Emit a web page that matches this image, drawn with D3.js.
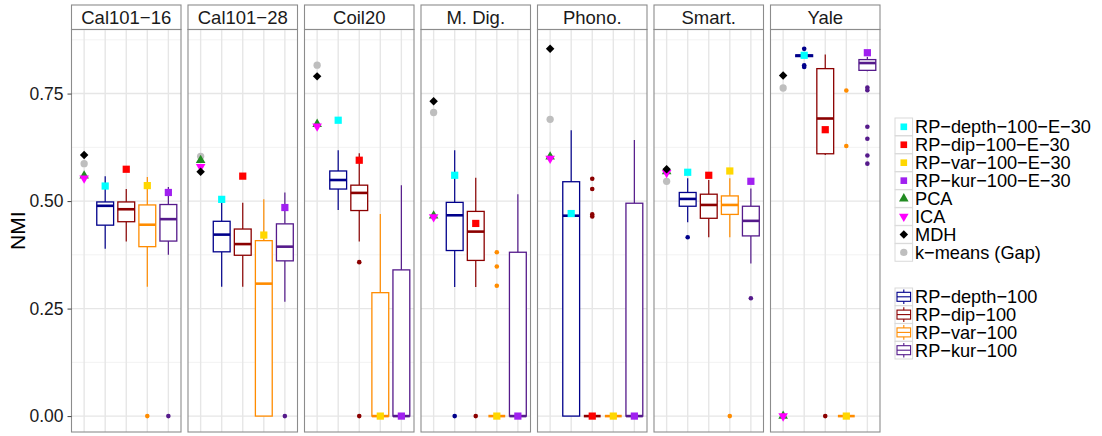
<!DOCTYPE html>
<html>
<head>
<meta charset="utf-8">
<script src="https://cdn.jsdelivr.net/npm/d3@7"></script>
<style>
  body { margin: 0; background: #fff; }
  text { font-family: "Liberation Sans", Arial, sans-serif; }
</style>
</head>
<body>
<svg id="chart" width="1102" height="436"></svg>
<script>
// facets
let datasets = ['Cal101−16', 'Cal101−28', 'Coil20', 'M. Dig.', 'Phono.', 'Smart.', 'Yale']

// single-value methods, one value per dataset
let kmeansGap = [0.587, 0.604, 0.816, 0.706, 0.690, 0.546, 0.763]
let pca       = [0.559, 0.595, 0.679, 0.466, 0.603, 0.569, 0.000]
let ica       = [0.553, 0.580, 0.674, 0.463, 0.599, 0.566, 0.000]
let mdh       = [0.607, 0.568, 0.790, 0.732, 0.854, 0.574, 0.792]

let depthE30 = [0.535, 0.504, 0.688, 0.560, 0.471, 0.567, 0.839]
let dipE30   = [0.574, 0.558, 0.595, 0.448, 0.000, 0.560, 0.666]
let varE30   = [0.536, 0.421, 0.000, 0.000, 0.000, 0.570, 0.000]
let kurE30   = [0.520, 0.485, 0.000, 0.000, 0.000, 0.546, 0.845]

// box stats [lower whisker, q1, median, q3, upper whisker]
let depthBox = [
  [0.389, 0.444, 0.489, 0.498, 0.558],
  [0.301, 0.382, 0.422, 0.453, 0.503],
  [0.479, 0.528, 0.549, 0.570, 0.618],
  [0.300, 0.385, 0.467, 0.497, 0.618],
  [0.000, 0.000, 0.466, 0.545, 0.665],
  [0.451, 0.488, 0.505, 0.520, 0.553],
  [0.836, 0.836, 0.838, 0.840, 0.840]
]
let dipBox = [
  [0.406, 0.452, 0.481, 0.498, 0.528],
  [0.301, 0.374, 0.400, 0.435, 0.496],
  [0.406, 0.478, 0.519, 0.537, 0.611],
  [0.300, 0.362, 0.429, 0.476, 0.554],
  [0.000, 0.000, 0.000, 0.000, 0.000],
  [0.416, 0.460, 0.491, 0.516, 0.549],
  [0.607, 0.610, 0.692, 0.808, 0.841]
]
let varBox = [
  [0.301, 0.394, 0.445, 0.491, 0.556],
  [0.000, 0.000, 0.308, 0.408, 0.504],
  [0.000, 0.000, 0.000, 0.287, 0.470],
  [0.000, 0.000, 0.000, 0.000, 0.000],
  [0.000, 0.000, 0.000, 0.000, 0.000],
  [0.416, 0.469, 0.491, 0.512, 0.553],
  [0.000, 0.000, 0.000, 0.000, 0.000]
]
let kurBox = [
  [0.375, 0.407, 0.458, 0.492, 0.533],
  [0.266, 0.361, 0.394, 0.447, 0.520],
  [0.000, 0.000, 0.000, 0.340, 0.537],
  [0.000, 0.000, 0.000, 0.381, 0.516],
  [0.000, 0.000, 0.000, 0.495, 0.642],
  [0.355, 0.419, 0.454, 0.488, 0.529],
  [0.802, 0.804, 0.821, 0.829, 0.835]
]

// outliers
let depthOut = [[], [], [], [0], [], [0.416], [0.854, 0.816, 0.812]]
let dipOut   = [[], [], [0.358, 0], [0], [0.552, 0.528, 0.469, 0.464], [], [0]]
let varOut   = [[0], [], [], [0.381, 0.348, 0.303], [], [0], [0.757, 0.628]]
let kurOut   = [[0], [0], [], [], [], [0.274], [0.764, 0.758, 0.673, 0.645, 0.606, 0.587]]

let yTicks = [0, 0.25, 0.5, 0.75]
let yMinor = [0.125, 0.375, 0.625, 0.875]

let slots = ['single', 'depth', 'dip', 'var', 'kur']

let boxSeries = [
  {name: 'RP−depth−100', slot: 'depth', color: '#00008B', stats: depthBox, out: depthOut},
  {name: 'RP−dip−100', slot: 'dip', color: '#8B0000', stats: dipBox, out: dipOut},
  {name: 'RP−var−100', slot: 'var', color: '#FF8C00', stats: varBox, out: varOut},
  {name: 'RP−kur−100', slot: 'kur', color: '#551A8B', stats: kurBox, out: kurOut}
]

let pointSeries = [
  {name: 'RP−depth−100−E−30', slot: 'depth', color: '#00FFFF', shape: 'square', values: depthE30},
  {name: 'RP−dip−100−E−30', slot: 'dip', color: '#FF0000', shape: 'square', values: dipE30},
  {name: 'RP−var−100−E−30', slot: 'var', color: '#FFD700', shape: 'square', values: varE30},
  {name: 'RP−kur−100−E−30', slot: 'kur', color: '#A020F0', shape: 'square', values: kurE30},
  {name: 'PCA', slot: 'single', color: '#228B22', shape: 'triangle', values: pca},
  {name: 'ICA', slot: 'single', color: '#FF00FF', shape: 'triangleDown', values: ica},
  {name: 'MDH', slot: 'single', color: '#000000', shape: 'diamond', values: mdh},
  {name: 'k−means (Gap)', slot: 'single', color: '#BEBEBE', shape: 'circle', values: kmeansGap}
]

let drawOrder = ['RP−depth−100−E−30', 'RP−dip−100−E−30', 'RP−var−100−E−30', 'RP−kur−100−E−30',
  'k−means (Gap)', 'PCA', 'ICA', 'MDH']

let panelLeft = 71.5
let panelStep = 116.5
let panelW = 109.5
let stripTop = 5
let panelTop = 29.5
let panelBottom = 432

let svg = d3.select('#chart')

let x = d3.scalePoint().domain(slots).range([0, panelW]).padding(0.6)
let y = d3.scaleLinear().domain([-0.037, 0.899]).range([panelBottom, panelTop])
let boxW = x.step() * 0.8

let symbolPath = (shape) => {
  if (shape === 'square') return d3.symbol(d3.symbolSquare, 52)()
  if (shape === 'triangle') return d3.symbol(d3.symbolTriangle, 40)()
  if (shape === 'triangleDown') return d3.symbol(d3.symbolTriangle, 40)()
  if (shape === 'diamond') return d3.symbol(d3.symbolSquare, 36)()
  return d3.symbol(d3.symbolCircle, 42)()
}
let symbolRotate = (shape) => shape === 'triangleDown' ? 180 : (shape === 'diamond' ? 45 : 0)

datasets.forEach((name, i) => {
  let g = svg.append('g').attr('transform', `translate(${panelLeft + i * panelStep},0)`)

  // strip
  g.append('rect')
    .attr('x', 0).attr('y', stripTop)
    .attr('width', panelW).attr('height', panelTop - stripTop)
    .attr('fill', '#fff').attr('stroke', '#8c8c8c').attr('stroke-width', 1.1)
  g.append('text')
    .attr('x', panelW / 2).attr('y', (stripTop + panelTop) / 2 + 6.5)
    .attr('text-anchor', 'middle')
    .attr('font-size', 18.5).attr('fill', '#1a1a1a')
    .text(name)

  // grid
  g.selectAll('.minor').data(yMinor).enter().append('line')
    .attr('x1', 0).attr('x2', panelW)
    .attr('y1', d => y(d)).attr('y2', d => y(d))
    .attr('stroke', '#f2f2f2').attr('stroke-width', 1)
  g.selectAll('.major').data(yTicks).enter().append('line')
    .attr('x1', 0).attr('x2', panelW)
    .attr('y1', d => y(d)).attr('y2', d => y(d))
    .attr('stroke', '#e6e6e6').attr('stroke-width', 1.4)
  g.selectAll('.vgrid').data(slots).enter().append('line')
    .attr('x1', d => x(d)).attr('x2', d => x(d))
    .attr('y1', panelTop).attr('y2', panelBottom)
    .attr('stroke', '#e6e6e6').attr('stroke-width', 1.4)

  // boxplots
  boxSeries.forEach(s => {
    let [lo, q1, med, q3, hi] = s.stats[i]
    let cx = x(s.slot)
    let bg = g.append('g')
    bg.append('line')
      .attr('x1', cx).attr('x2', cx).attr('y1', y(hi)).attr('y2', y(q3))
      .attr('stroke', s.color).attr('stroke-width', 1.2)
    bg.append('line')
      .attr('x1', cx).attr('x2', cx).attr('y1', y(q1)).attr('y2', y(lo))
      .attr('stroke', s.color).attr('stroke-width', 1.2)
    bg.append('rect')
      .attr('x', cx - boxW / 2).attr('width', boxW)
      .attr('y', y(q3)).attr('height', Math.max(0, y(q1) - y(q3)))
      .attr('fill', '#fff').attr('stroke', s.color).attr('stroke-width', 1.3)
    bg.append('line')
      .attr('x1', cx - boxW / 2).attr('x2', cx + boxW / 2)
      .attr('y1', y(med)).attr('y2', y(med))
      .attr('stroke', s.color).attr('stroke-width', 2.6)
    bg.selectAll('circle').data(s.out[i]).enter().append('circle')
      .attr('cx', cx).attr('cy', d => y(d)).attr('r', 2.3)
      .attr('fill', s.color)
  })

  // single-value markers
  drawOrder.forEach(n => {
    let s = pointSeries.find(p => p.name === n)
    g.append('path')
      .attr('d', symbolPath(s.shape))
      .attr('transform', `translate(${x(s.slot)},${y(s.values[i])}) rotate(${symbolRotate(s.shape)})`)
      .attr('fill', s.color)
  })

  // panel border
  g.append('rect')
    .attr('x', 0).attr('y', panelTop)
    .attr('width', panelW).attr('height', panelBottom - panelTop)
    .attr('fill', 'none').attr('stroke', '#8c8c8c').attr('stroke-width', 1.1)
})

// y axis
let yAxis = svg.append('g')
  .attr('transform', `translate(${panelLeft},0)`)
  .call(d3.axisLeft(y).tickValues(yTicks).tickFormat(d3.format('.2f')).tickSize(4).tickPadding(4))
yAxis.select('.domain').remove()
yAxis.selectAll('.tick line').attr('stroke', '#444').attr('stroke-width', 1)
yAxis.selectAll('.tick text')
  .attr('font-size', 17.5).attr('fill', '#1a1a1a')
  .style('font-family', '"Liberation Sans", Arial, sans-serif')

svg.append('text')
  .attr('transform', `translate(24.5,${(panelTop + panelBottom) / 2}) rotate(-90)`)
  .attr('text-anchor', 'middle')
  .attr('font-size', 21).attr('fill', '#000')
  .text('NMI')

// legends
let keyX = 895, keyS = 17.6, textX = 915
let leg1 = svg.append('g')
pointSeries.forEach((s, k) => {
  let ky = 118 + k * 17.95
  leg1.append('rect')
    .attr('x', keyX).attr('y', ky).attr('width', keyS).attr('height', keyS)
    .attr('fill', '#fff').attr('stroke', '#d9d9d9').attr('stroke-width', 1)
  leg1.append('path')
    .attr('d', s.shape === 'square' ? d3.symbol(d3.symbolSquare, 44)() : symbolPath(s.shape))
    .attr('transform', `translate(${keyX + keyS / 2},${ky + keyS / 2}) rotate(${symbolRotate(s.shape)})`)
    .attr('fill', s.color)
  leg1.append('text')
    .attr('x', textX).attr('y', ky + keyS / 2 + 6.3)
    .attr('font-size', 18.2).attr('fill', '#000')
    .text(s.name)
})

let leg2 = svg.append('g')
boxSeries.forEach((s, k) => {
  let ky = 288 + k * 17.8
  let cx = keyX + keyS / 2, cy = ky + keyS / 2
  leg2.append('rect')
    .attr('x', keyX).attr('y', ky).attr('width', keyS).attr('height', keyS)
    .attr('fill', '#fff').attr('stroke', '#d9d9d9').attr('stroke-width', 1)
  leg2.append('line')
    .attr('x1', cx).attr('x2', cx).attr('y1', ky + 1.5).attr('y2', ky + keyS - 1.5)
    .attr('stroke', s.color).attr('stroke-width', 1.1)
  leg2.append('rect')
    .attr('x', keyX + 2).attr('y', cy - 4.5).attr('width', keyS - 4).attr('height', 9)
    .attr('fill', '#fff').attr('stroke', s.color).attr('stroke-width', 1.1)
  leg2.append('line')
    .attr('x1', keyX + 2).attr('x2', keyX + keyS - 2).attr('y1', cy).attr('y2', cy)
    .attr('stroke', s.color).attr('stroke-width', 1.1)
  leg2.append('text')
    .attr('x', textX).attr('y', cy + 6.3)
    .attr('font-size', 18.2).attr('fill', '#000')
    .text(s.name)
})
</script>
</body>
</html>
